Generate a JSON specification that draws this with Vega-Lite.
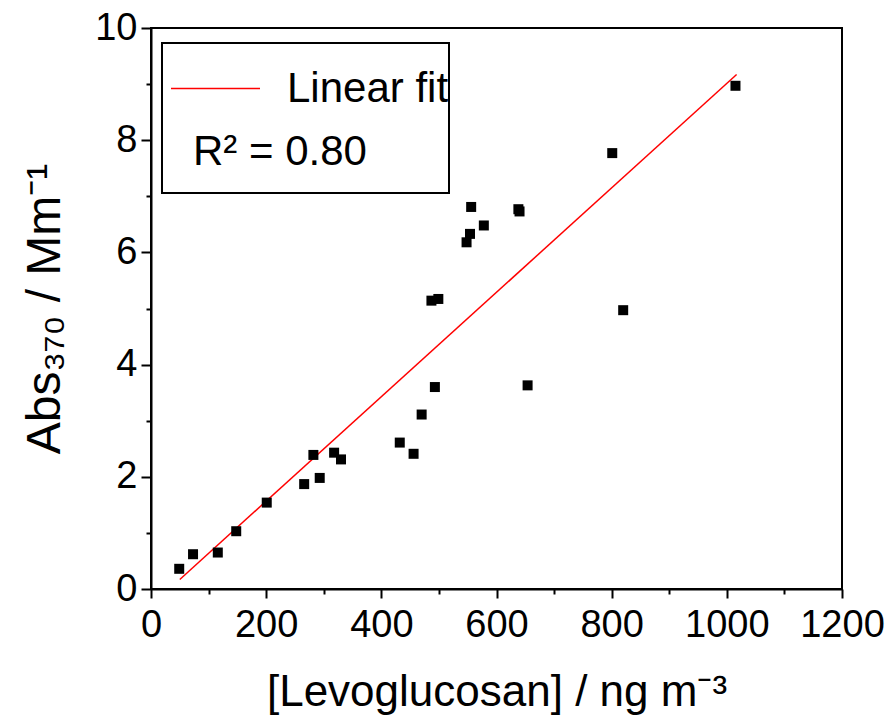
{
  "$schema": "https://vega.github.io/schema/vega-lite/v6.json",
  "autosize": {"type": "none"},
  "width": 691,
  "height": 561,
  "padding": {"left": 151, "top": 28, "right": 46, "bottom": 136},
  "background": "white",
  "config": {
    "font": "Liberation Sans",
    "view": {"stroke": "black", "strokeWidth": 2},
    "legend": {"strokeWidth": 2},
    "axis": {
      "grid": false,
      "domainColor": "black",
      "domainWidth": 2,
      "tickColor": "black",
      "tickWidth": 2,
      "labelFont": "Liberation Sans",
      "labelFontSize": 38,
      "labelColor": "black",
      "titleFont": "Liberation Sans",
      "titleFontSize": 44,
      "titleFontWeight": "normal",
      "titleColor": "black"
    }
  },
  "datasets": {
    "points": [
      {"levo": 49, "abs": 0.36},
      {"levo": 73, "abs": 0.62},
      {"levo": 116, "abs": 0.65},
      {"levo": 148, "abs": 1.03},
      {"levo": 201, "abs": 1.54},
      {"levo": 266, "abs": 1.87},
      {"levo": 282, "abs": 2.39},
      {"levo": 293, "abs": 1.98},
      {"levo": 318, "abs": 2.43},
      {"levo": 330, "abs": 2.31},
      {"levo": 432, "abs": 2.61},
      {"levo": 456, "abs": 2.41},
      {"levo": 470, "abs": 3.11},
      {"levo": 493, "abs": 3.60},
      {"levo": 487, "abs": 5.14},
      {"levo": 499, "abs": 5.17},
      {"levo": 548, "abs": 6.18},
      {"levo": 554, "abs": 6.33},
      {"levo": 556, "abs": 6.81},
      {"levo": 578, "abs": 6.48},
      {"levo": 638, "abs": 6.77},
      {"levo": 640, "abs": 6.73},
      {"levo": 654, "abs": 3.63},
      {"levo": 801, "abs": 7.77},
      {"levo": 820, "abs": 4.97},
      {"levo": 1015, "abs": 8.97}
    ],
    "fit": [
      {"levo": 50, "abs": 0.17, "series": "Linear fit"},
      {"levo": 1017, "abs": 9.17, "series": "Linear fit"}
    ]
  },
  "resolve": {"axis": {"x": "independent", "y": "independent"}},
  "layer": [
    {
      "data": {"name": "fit"},
      "mark": {"type": "line", "strokeWidth": 1.5},
      "encoding": {
        "x": {
          "field": "levo", "type": "quantitative",
          "scale": {"domain": [0, 1200], "nice": false, "zero": false},
          "axis": {
            "orient": "bottom",
            "title": null,
            "labels": false,
            "domain": false,
            "values": [100, 300, 500, 700, 900, 1100],
            "tickSize": 5
          }
        },
        "y": {
          "field": "abs", "type": "quantitative",
          "scale": {"domain": [0, 10], "nice": false, "zero": false},
          "axis": {
            "orient": "left",
            "title": null,
            "labels": false,
            "domain": false,
            "values": [1, 3, 5, 7, 9],
            "tickSize": 5
          }
        },
        "color": {
          "field": "series", "type": "nominal",
          "scale": {"range": ["#ff0000"]},
          "legend": {
            "orient": "none",
            "legendX": 11,
            "legendY": 15,
            "title": ["R² = 0.80", " "],
            "titleOrient": "bottom",
            "titleAnchor": "start",
            "titleFont": "Liberation Sans",
            "titleFontSize": 42,
            "titleFontWeight": "normal",
            "titleColor": "black",
            "titleLineHeight": 20,
            "titlePadding": 22,
            "titleLimit": 400,
            "labelFont": "Liberation Sans",
            "labelFontSize": 42,
            "labelColor": "black",
            "labelOffset": 26,
            "labelLimit": 400,
            "symbolType": "stroke",
            "symbolSize": 7921,
            "symbolOffset": 8,
            "symbolStrokeWidth": 1.5,
            "strokeColor": "black",
            "padding": 0,
            "fillColor": "white",
            "encode": {
              "title": {"update": {"dx": {"value": 31}}},
              "entries": {"update": {"width": {"value": 323}}}
            }
          }
        }
      }
    },
    {
      "data": {"name": "points"},
      "mark": {"type": "point", "shape": "square", "filled": true, "color": "black", "size": 100, "opacity": 1},
      "encoding": {
        "x": {
          "field": "levo", "type": "quantitative",
          "axis": {
            "orient": "bottom",
            "title": "[Levoglucosan] / ng m⁻³",
            "values": [0, 200, 400, 600, 800, 1000, 1200],
            "format": "d",
            "tickSize": 9,
            "labelPadding": 8,
            "titlePadding": 26,
            "labelFlush": false
          }
        },
        "y": {
          "field": "abs", "type": "quantitative",
          "axis": {
            "orient": "left",
            "title": "Abs₃₇₀ / Mm⁻¹",
            "titleFontSize": 48,
            "values": [0, 2, 4, 6, 8, 10],
            "tickSize": 10,
            "labelPadding": 4,
            "titlePadding": 25,
            "labelFlush": false
          }
        }
      }
    }
  ]
}
